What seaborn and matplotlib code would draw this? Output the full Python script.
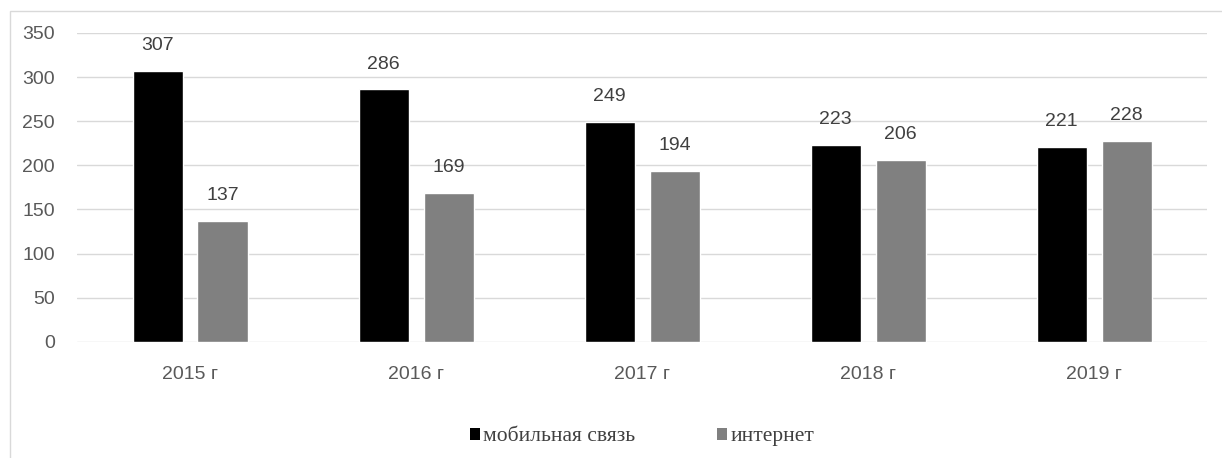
import numpy as np
import pandas as pd
import seaborn as sns
import matplotlib.pyplot as plt
from matplotlib.patches import Rectangle, Patch

# data
years = ['2015 г', '2016 г', '2017 г', '2018 г', '2019 г']
mobile = [307, 286, 249, 223, 221]
internet = [137, 169, 194, 206, 228]
series_names = ['мобильная связь', 'интернет']
colors = ['#000000', '#808080']

df = pd.DataFrame({
    'year': years * 2,
    'value': mobile + internet,
    'series': [series_names[0]] * len(years) + [series_names[1]] * len(years),
})

sns.set_style('white')
plt.rcParams['font.family'] = ['Liberation Sans Narrow', 'Liberation Sans', 'DejaVu Sans']

fig = plt.figure(figsize=(12.22, 4.58), dpi=100)
ax = fig.add_axes([0.063, 0.2533, 0.925, 0.675])

sns.barplot(data=df, x='year', y='value', hue='series', palette=colors,
            width=0.575, gap=0.23, ax=ax, legend=False, saturation=1)

for cont in ax.containers:
    ax.bar_label(cont, padding=12, fontsize=14, color='#404040')

ax.set_ylim(0, 350)
ax.set_yticks(np.arange(0, 351, 50))
ax.yaxis.grid(True, color='#d9d9d9', linewidth=1)
ax.set_axisbelow(True)
for s in ax.spines.values():
    s.set_visible(False)
ax.tick_params(axis='both', length=0, labelsize=14, labelcolor='#595959')
ax.tick_params(axis='x', pad=17)
ax.tick_params(axis='y', pad=16)
ax.set_xlabel('')
ax.set_ylabel('')
ax.set_xlim(-0.5, len(years) - 0.5)

# outer chart border (partially visible)
fig.patches.append(Rectangle((10 / 1222, -0.1), 1.2, 0.1 + 1 - 11 / 458,
                             transform=fig.transFigure, fill=False,
                             edgecolor='#d9d9d9', linewidth=1))

handles = [Patch(facecolor=c, edgecolor='none') for c in colors]
ax.legend(handles, series_names, loc='center', bbox_to_anchor=(0.5, -0.307),
          ncol=2, frameon=False, handlelength=0.47, handleheight=0.47,
          handletextpad=0.15, columnspacing=3.8,
          prop={'family': 'Liberation Serif', 'size': 15.5})
for t in ax.get_legend().get_texts():
    t.set_color('#404040')

fig.savefig('out.png', dpi=100)
